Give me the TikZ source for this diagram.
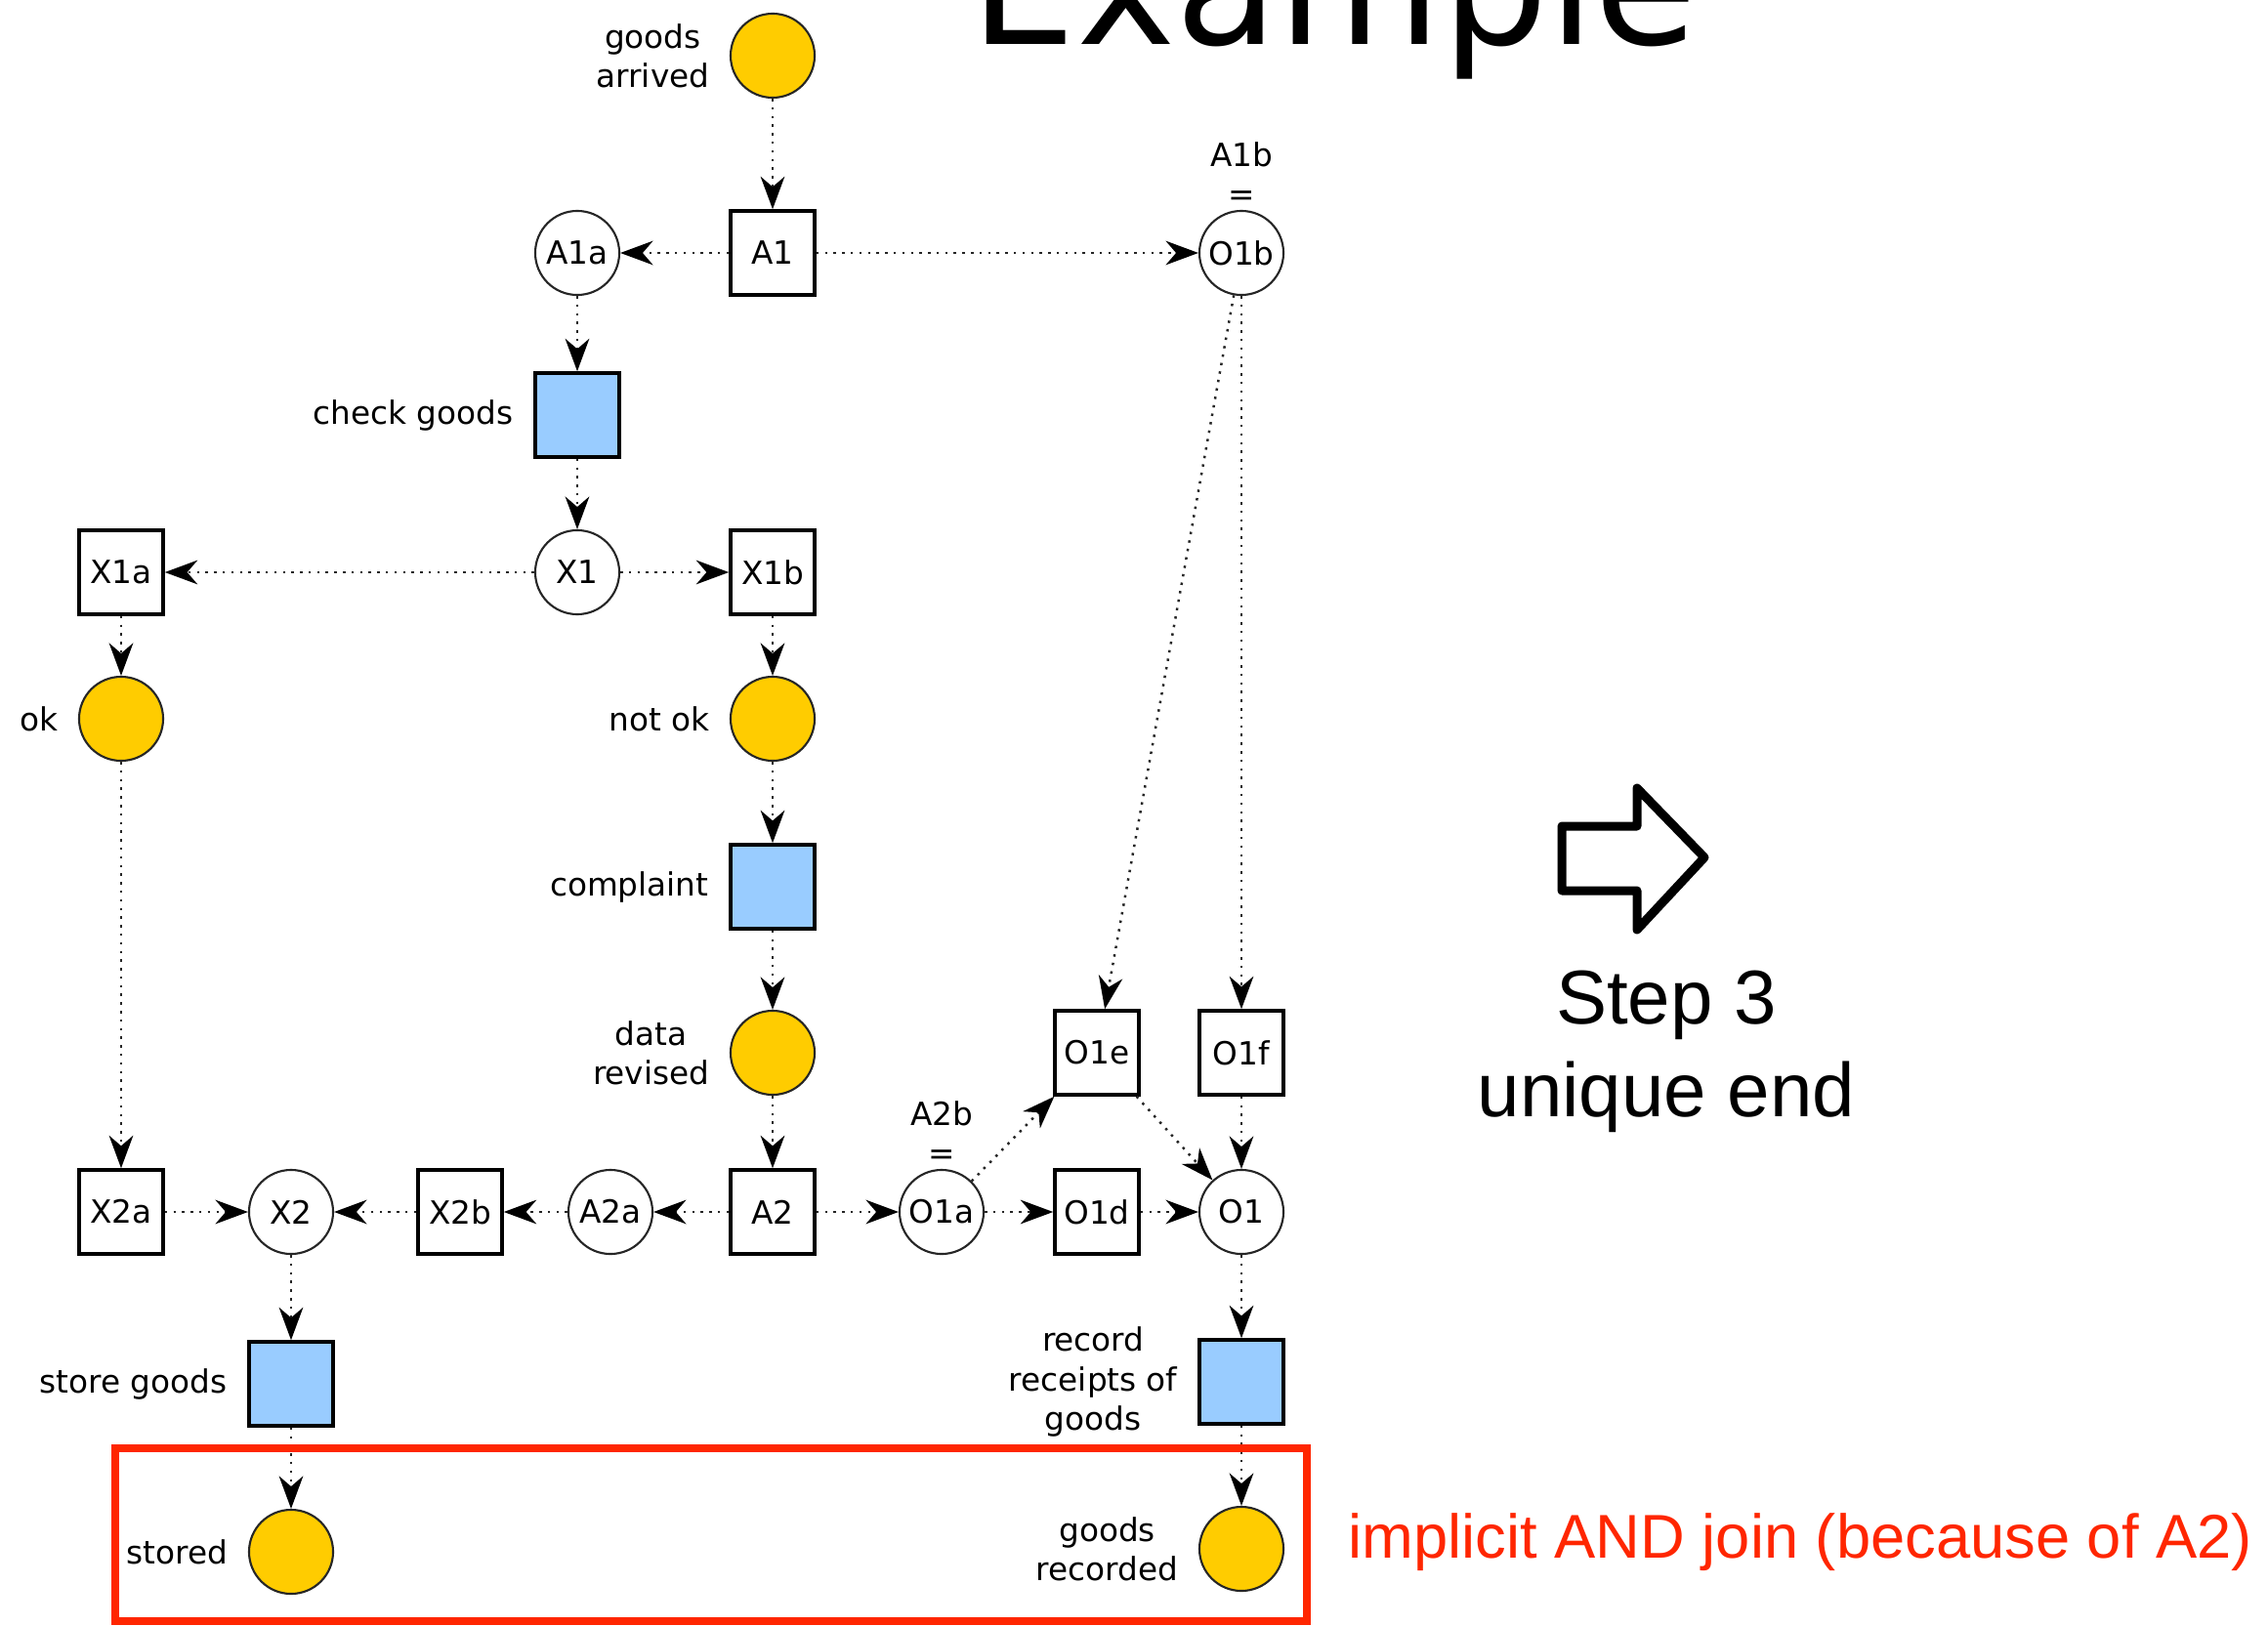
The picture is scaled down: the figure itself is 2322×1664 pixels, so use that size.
\documentclass[tikz,border=0pt]{standalone}
\usepackage{fontspec}
\usetikzlibrary{arrows.meta}
\newfontfamily\dvfont{DejaVu Sans}
\newfontfamily\arialfont{Liberation Sans}
\definecolor{ycol}{HTML}{FFCC00}
\definecolor{bcol}{HTML}{99CCFF}
\definecolor{rcol}{HTML}{FF2600}
\newcommand\lblfont{\dvfont\fontsize{9.3}{11.4}\selectfont}
\begin{document}
\begin{tikzpicture}[x=0.01cm,y=-0.01cm,
  place/.style={circle,draw=black!85,line width=0.6pt,minimum size=0.86cm,inner sep=0pt,font=\lblfont},
  cond/.style={place,fill=ycol},
  trans/.style={rectangle,draw=black,line width=1pt,minimum size=0.86cm,inner sep=0pt,font=\lblfont},
  task/.style={trans,fill=bcol},
  lab/.style={align=center,inner sep=0pt,font=\lblfont},
  flow/.style={draw=black!85,line width=0.7pt,dash pattern=on 0.7pt off 1.8pt,
    -{Stealth[length=9.5pt,width=7pt,inset=3pt,black]}},
  redbox/.style={draw=rcol,line width=2.1pt},
]
\fill[white] (0,0) rectangle (2322,1664);
\path[use as bounding box] (0,0) rectangle (2322,1664);

% title (cut by the page top)
\node[anchor=base west,inner sep=0pt,font=\dvfont\fontsize{48.8}{58}\selectfont] (title) at (993,46) {Example};

% nodes
\node[cond]  (ga)  at (791,57) {};
\node[trans] (A1)  at (791,259) {A1};
\node[place] (A1a) at (591,259) {A1a};
\node[place] (O1b) at (1271,259) {O1b};
\node[task]  (cg)  at (591,425) {};
\node[place] (X1)  at (591,586) {X1};
\node[trans] (X1a) at (124,586) {X1a};
\node[trans] (X1b) at (791,586) {X1b};
\node[cond]  (ok)  at (124,736) {};
\node[cond]  (nok) at (791,736) {};
\node[task]  (cpl) at (791,908) {};
\node[cond]  (dr)  at (791,1078) {};
\node[trans] (O1e) at (1123,1078) {O1e};
\node[trans] (O1f) at (1271,1078) {O1f};
\node[trans] (X2a) at (124,1241) {X2a};
\node[place] (X2)  at (298,1241) {X2};
\node[trans] (X2b) at (471,1241) {X2b};
\node[place] (A2a) at (625,1241) {A2a};
\node[trans] (A2)  at (791,1241) {A2};
\node[place] (O1a) at (964,1241) {O1a};
\node[trans] (O1d) at (1123,1241) {O1d};
\node[place] (O1)  at (1271,1241) {O1};
\node[task]  (sg)  at (298,1417) {};
\node[task]  (rr)  at (1271,1415) {};
\node[cond]  (st)  at (298,1589) {};
\node[cond]  (gr)  at (1271,1586) {};

% labels
\node[lab,anchor=east] (lga)  at ([xshift=-0.2cm]ga.west)  {goods\\arrived};
\node[lab,anchor=east] (lcg)  at ([xshift=-0.2cm]cg.west)  {check goods};
\node[lab,anchor=east] (lok)  at ([xshift=-0.2cm]ok.west)  {ok};
\node[lab,anchor=east] (lnok) at ([xshift=-0.2cm]nok.west) {not ok};
\node[lab,anchor=east] (lcpl) at ([xshift=-0.2cm]cpl.west) {complaint};
\node[lab,anchor=east] (ldr)  at ([xshift=-0.2cm]dr.west)  {data\\revised};
\node[lab,anchor=east] (lsg)  at ([xshift=-0.2cm]sg.west)  {store goods};
\node[lab,anchor=east] (lrr)  at ([xshift=-0.2cm]rr.west)  {record\\receipts of\\goods};
\node[lab,anchor=east] (lst)  at ([xshift=-0.2cm]st.west)  {stored};
\node[lab,anchor=east] (lgr)  at ([xshift=-0.2cm]gr.west)  {goods\\recorded};
\node[lab,anchor=south] (la1b) at ([yshift=0.04cm]O1b.north) {A1b\\=};
\node[lab,anchor=south] (la2b) at ([yshift=0.04cm]O1a.north) {A2b\\=};

% connectors
\draw[flow] (ga) -- (A1);
\draw[flow] (A1) -- (A1a);
\draw[flow] (A1) -- (O1b);
\draw[flow] (A1a) -- (cg);
\draw[flow] (cg) -- (X1);
\draw[flow] (X1) -- (X1a);
\draw[flow] (X1) -- (X1b);
\draw[flow] (X1a) -- (ok);
\draw[flow] (X1b) -- (nok);
\draw[flow] (ok) -- (X2a);
\draw[flow] (nok) -- (cpl);
\draw[flow] (cpl) -- (dr);
\draw[flow] (dr) -- (A2);
\draw[flow] (A2) -- (A2a);
\draw[flow] (A2a) -- (X2b);
\draw[flow] (X2b) -- (X2);
\draw[flow] (X2a) -- (X2);
\draw[flow] (A2) -- (O1a);
\draw[flow] (O1a) -- (O1d);
\draw[flow] (O1d) -- (O1);
\draw[flow] (O1a) -- (O1e);
\draw[flow] (O1e) -- (O1);
\draw[flow] (O1f) -- (O1);
\draw[flow] (O1b) -- (O1e);
\draw[flow] (O1b) -- (O1f);
\draw[flow] (X2) -- (sg);
\draw[flow] (sg) -- (st);
\draw[flow] (O1) -- (rr);
\draw[flow] (rr) -- (gr);

% red highlight
\draw[redbox] (118,1483) rectangle (1338,1660);
\node[anchor=base west,inner sep=0pt,text=rcol,font=\arialfont\fontsize{18}{21.6}\selectfont] (note) at (1380,1595) {implicit AND join (because of A2)};

% step arrow and text
\draw[line width=0.09cm,line join=round] (1599,846) -- (1676,846) -- (1676,807) -- (1745,878) -- (1676,952) -- (1676,912) -- (1599,912) -- cycle;
\node[anchor=base,inner sep=0pt,font=\arialfont\fontsize{22.2}{27}\selectfont] (step) at (1706,1048) {Step 3};
\node[anchor=base,inner sep=0pt,font=\arialfont\fontsize{22.2}{27}\selectfont] (stepb) at (1706,1143) {unique end};
\end{tikzpicture}
\end{document}
